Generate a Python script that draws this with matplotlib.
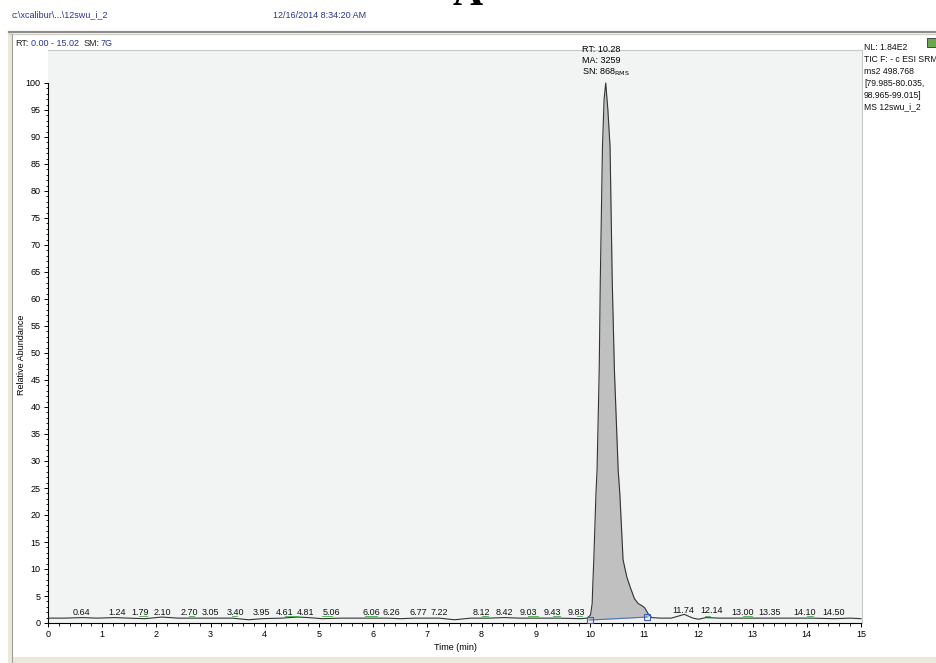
import matplotlib.pyplot as plt
from matplotlib.patches import Rectangle
from matplotlib.lines import Line2D

plt.rcParams['font.family'] = ['Liberation Sans', 'DejaVu Sans']

# chromatogram trace (time in min, relative abundance in %)
rt = [0.0, 0.3, 0.64, 0.9, 1.24, 1.5, 1.79, 2.1, 2.4, 2.7, 3.05, 3.4, 3.7,
      3.95, 4.3, 4.61, 4.81, 5.06, 5.4, 5.7, 6.06, 6.26, 6.5, 6.77, 7.0,
      7.22, 7.5, 7.8, 8.12, 8.42, 8.7, 9.03, 9.43, 9.83, 9.95, 10.01, 10.04,
      10.05, 10.07, 10.11, 10.13, 10.17, 10.19, 10.23, 10.26, 10.29, 10.33,
      10.37, 10.41, 10.45, 10.52, 10.55, 10.61, 10.68, 10.74, 10.82, 10.89,
      10.96, 11.01, 11.08, 11.14, 11.3, 11.5, 11.74, 11.9, 12.0, 12.14, 12.4,
      12.7, 13.0, 13.35, 13.7, 14.1, 14.5, 14.8, 15.0]
abund = [0.9, 0.9, 1.0, 0.9, 1.0, 0.9, 0.8, 1.1, 0.9, 0.9, 0.9, 0.9, 0.6,
         0.8, 0.9, 1.1, 1.0, 0.8, 0.9, 0.9, 0.9, 0.9, 0.8, 0.9, 0.9,
         0.9, 0.6, 0.9, 0.9, 1.0, 0.9, 0.9, 0.9, 0.8, 0.9, 1.5, 3.6,
         6.7, 11.7, 24.0, 28.3, 46.9, 63.5, 88.2, 97.0, 100.0, 95.0,
         88.2, 63.5, 46.9, 28.3, 24.0, 11.7, 8.5, 6.7, 4.5, 3.6,
         3.2, 2.8, 1.6, 1.0, 0.9, 0.9, 1.6, 0.9, 0.7, 1.0, 0.9,
         0.9, 0.9, 0.9, 0.9, 0.9, 0.8, 0.9, 0.8]

# labelled apex times along the baseline
peak_labels = ['0.64', '1.24', '1.79', '2.10', '2.70', '3.05', '3.40', '3.95',
               '4.61', '4.81', '5.06', '6.06', '6.26', '6.77', '7.22', '8.12',
               '8.42', '9.03', '9.43', '9.83', '11.74', '12.14', '13.00',
               '13.35', '14.10', '14.50']
peak_label_x = [0.62, 1.27, 1.70, 2.11, 2.61, 3.00, 3.46, 3.94, 4.37, 4.76,
                5.23, 5.97, 6.34, 6.83, 7.22, 7.99, 8.42, 8.86, 9.31, 9.75,
                11.72, 12.25, 12.82, 13.32, 13.95, 14.49]
peak_label_y = [2.0] * 20 + [2.4, 2.3, 2.0, 2.0, 2.0, 2.0]

# small green detection marks (start, end)
green_marks = [(1.67, 1.83), (2.60, 2.70), (3.39, 3.48), (4.37, 4.61),
               (5.05, 5.24), (5.85, 6.07), (8.00, 8.12), (8.86, 9.04),
               (9.32, 9.45), (9.76, 9.85), (12.12, 12.21), (12.82, 12.99),
               (14.00, 14.11)]

# integration baseline of the main peak
base_t = [10.00, 11.05]
base_y = [0.55, 1.1]

W, H = 936, 663
fig = plt.figure(figsize=(W / 100, H / 100), dpi=100)

def fx(px):
    return px / W

def fy(py):
    return 1 - py / H

# window frame
fig.add_artist(Line2D([fx(9), 1], [fy(32), fy(32)], color='#8c8c8c', lw=1.6))
fig.add_artist(Line2D([fx(9), 1], [fy(34), fy(34)], color='#d4d0c8', lw=1.0))
fig.add_artist(Rectangle((fx(8), 0), fx(4), fy(32), facecolor='#ece9d8',
                         edgecolor='none'))
fig.add_artist(Line2D([fx(12), fx(12)], [0, fy(34)], color='#a0a0a0', lw=0.8))
fig.add_artist(Rectangle((fx(12), 0), 1, fy(657), facecolor='#ece9d8',
                         edgecolor='none'))
fig.add_artist(Rectangle((fx(927), fy(47)), fx(9), fy(38) - fy(47),
                         facecolor='#6aa84f', edgecolor='#333333', lw=0.6))

fig.text(0.5, fy(5), 'A', fontsize=30, fontweight='bold', family='Liberation Serif',
         ha='center', va='baseline')

blue = '#283593'
fs = 6.5
fig.text(fx(12), fy(15), 'c:\\xcalibur\\...\\12swu_i_2', fontsize=fs,
         color=blue, va='center')
fig.text(fx(273), fy(15), '12/16/2014 8:34:20 AM', fontsize=fs, color=blue,
         va='center')
fig.text(fx(15), fy(43), 'RT:', fontsize=fs, color='#222222', va='center')
fig.text(fx(31), fy(43), '0.00 - 15.02', fontsize=fs, color=blue, va='center')
fig.text(fx(84), fy(43), 'SM:', fontsize=fs, color='#222222', va='center')
fig.text(fx(101), fy(43), '7G', fontsize=fs, color=blue, va='center')

info = ['NL: 1.84E2', 'TIC F: - c ESI SRM', 'ms2 498.768', '[79.985-80.035,',
        '98.965-99.015]', 'MS 12swu_i_2']
for i, line in enumerate(info):
    fig.text(fx(864), fy(47 + 12 * i), line, fontsize=6.2, color='#111111',
             va='center')

# plot area
ax = fig.add_axes([fx(48), fy(623), fx(862 - 48), fy(50) - fy(623)])
ax.set_facecolor('#f2f4f3')
ax.set_xlim(0, 15 * (862 - 48) / (861 - 48))
ax.set_ylim(0, (623 - 50) / 5.4)

for side in ['top', 'right']:
    ax.spines[side].set_color('#c8c8c8')
    ax.spines[side].set_linewidth(0.8)
ax.spines['left'].set_bounds(0, 100)
ax.spines['bottom'].set_bounds(0, 15)
ax.spines['left'].set_linewidth(0.8)
ax.spines['bottom'].set_linewidth(0.8)

ax.set_xticks(range(0, 16))
ax.set_xticks([i * 0.2 for i in range(76)], minor=True)
ax.set_yticks(range(0, 101, 5))
ax.set_yticks(range(0, 101), minor=True)
ax.tick_params(which='major', length=3.2, width=0.7, labelsize=fs, pad=2)
ax.tick_params(which='minor', length=1.8, width=0.6)

# filled area of the integrated peak
i0 = rt.index(10.01) - 1
i1 = rt.index(11.08) + 1
seg_t = rt[i0:i1]
seg_y = abund[i0:i1]
base_interp = [base_y[0] + (t - base_t[0]) * (base_y[1] - base_y[0]) / (base_t[1] - base_t[0])
               for t in seg_t]
ax.fill_between(seg_t, base_interp, seg_y, color='#c0c0c0', lw=0, zorder=2)

ax.plot(rt, abund, color='#333333', lw=0.8, zorder=3)
ax.plot(base_t, base_y, color='#4a6fc4', lw=0.8, zorder=4)
ax.plot(base_t, base_y, ls='none', marker='s', ms=4, mfc='none',
        mec='#3a5fb4', mew=0.8, zorder=5)

for a, b in green_marks:
    ax.plot([a, b], [1.3, 1.3], color='#3cb043', lw=0.6, zorder=3)

for lab, x, y in zip(peak_labels, peak_label_x, peak_label_y):
    ax.text(x, y, lab, fontsize=fs, ha='center', va='center', color='#111111',
            zorder=6)

ax.text(9.86, 104.0, 'RT: 10.28\nMA: 3259\nSN: 868$_{\\mathrm{RMS}}$',
        fontsize=fs, ha='left', va='center', linespacing=1.25)

fig.text(fx(455), fy(647), 'Time (min)', fontsize=fs, ha='center', va='center')
fig.text(fx(22), fy(355), 'Relative Abundance', fontsize=fs, rotation=90,
         ha='center', va='center')

fig.savefig('out.png', dpi=100)
